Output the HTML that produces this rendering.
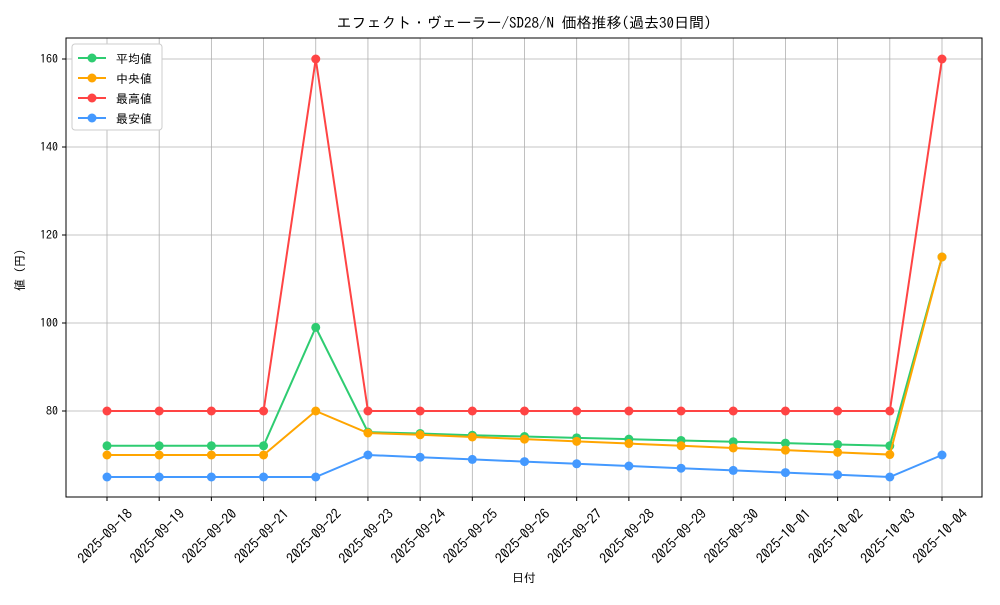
<!DOCTYPE html>
<html><head><meta charset="utf-8"><style>body{margin:0;background:#fff}svg text{font-family:"IPAGothic","Noto Sans CJK JP",monospace;fill:#000}</style></head>
<body>
<svg width="1000" height="600" xmlns="http://www.w3.org/2000/svg">
<rect width="1000" height="600" fill="#fff"/>
<text x="524" y="28" font-size="15" text-anchor="middle">エフェクト・ヴェーラー/SD28/N 価格推移(過去30日間)</text>
<g id="grid" stroke="#b0b0b0" stroke-width="0.8"></g>
<rect x="66" y="38" width="916" height="459" fill="none" stroke="#000" stroke-width="1"/>
<g id="ticks"></g>
<text x="524" y="582" font-size="12" text-anchor="middle">日付</text>
<text transform="translate(24,270) rotate(-90)" font-size="12" text-anchor="middle">値 (円)</text>
<g id="series"></g>
<g>
<rect x="72" y="44" width="90" height="86" fill="#fff" stroke="#ccc" rx="3"/>
<line x1="78" y1="58" x2="106" y2="58" stroke="#2ecc71" stroke-width="2"/><circle cx="92" cy="58" r="4.5" fill="#2ecc71"/><text x="116" y="63" font-size="12">平均値</text>
<line x1="78" y1="78" x2="106" y2="78" stroke="#ffa500" stroke-width="2"/><circle cx="92" cy="78" r="4.5" fill="#ffa500"/><text x="116" y="83" font-size="12">中央値</text>
<line x1="78" y1="98" x2="106" y2="98" stroke="#ff4444" stroke-width="2"/><circle cx="92" cy="98" r="4.5" fill="#ff4444"/><text x="116" y="103" font-size="12">最高値</text>
<line x1="78" y1="118" x2="106" y2="118" stroke="#4499ff" stroke-width="2"/><circle cx="92" cy="118" r="4.5" fill="#4499ff"/><text x="116" y="123" font-size="12">最安値</text>
</g>
</svg>
<script>
const NS="http://www.w3.org/2000/svg";
const X=i=>107+i*52.1875, Y=v=>411-(v-80)*4.4;
const dates=["2025-09-18","2025-09-19","2025-09-20","2025-09-21","2025-09-22","2025-09-23","2025-09-24","2025-09-25","2025-09-26","2025-09-27","2025-09-28","2025-09-29","2025-09-30","2025-10-01","2025-10-02","2025-10-03","2025-10-04"];
const g=document.getElementById("grid"),t=document.getElementById("ticks"),s=document.getElementById("series");
function el(p,n,a,txt){const e=document.createElementNS(NS,n);for(const k in a)e.setAttribute(k,a[k]);if(txt)e.textContent=txt;p.appendChild(e);return e;}
dates.forEach((d,i)=>{const x=X(i);el(g,"line",{x1:x,x2:x,y1:38,y2:497});el(t,"line",{x1:x,x2:x,y1:497,y2:501,stroke:"#000"});
el(t,"text",{x:0,y:5,"font-size":14,"text-anchor":"middle",transform:`translate(${x-2},${536}) rotate(-45)`},d);});
[80,100,120,140,160].forEach(v=>{const y=Y(v);el(g,"line",{x1:66,x2:982,y1:y,y2:y});el(t,"line",{x1:62,x2:66,y1:y,y2:y,stroke:"#000"});el(t,"text",{x:58,y:y+4,"font-size":12,"text-anchor":"end"},v);});
const data=[
["#2ecc71",[72.1,72.1,72.1,72.1,99,75.2,74.9,74.5,74.2,73.9,73.6,73.3,73.0,72.7,72.4,72.1,115]],
["#ffa500",[70,70,70,70,80,75,74.6,74.1,73.6,73.1,72.6,72.1,71.6,71.1,70.6,70.1,115]],
["#ff4444",[80,80,80,80,160,80,80,80,80,80,80,80,80,80,80,80,160]],
["#4499ff",[65,65,65,65,65,70,69.5,69,68.5,68,67.5,67,66.5,66,65.5,65,70]]];
data.forEach(([c,v])=>{el(s,"polyline",{points:v.map((y,i)=>X(i)+","+Y(y)).join(" "),fill:"none",stroke:c,"stroke-width":2});
v.forEach((y,i)=>el(s,"circle",{cx:X(i),cy:Y(y),r:4.5,fill:c}));});
</script>
</body></html>
